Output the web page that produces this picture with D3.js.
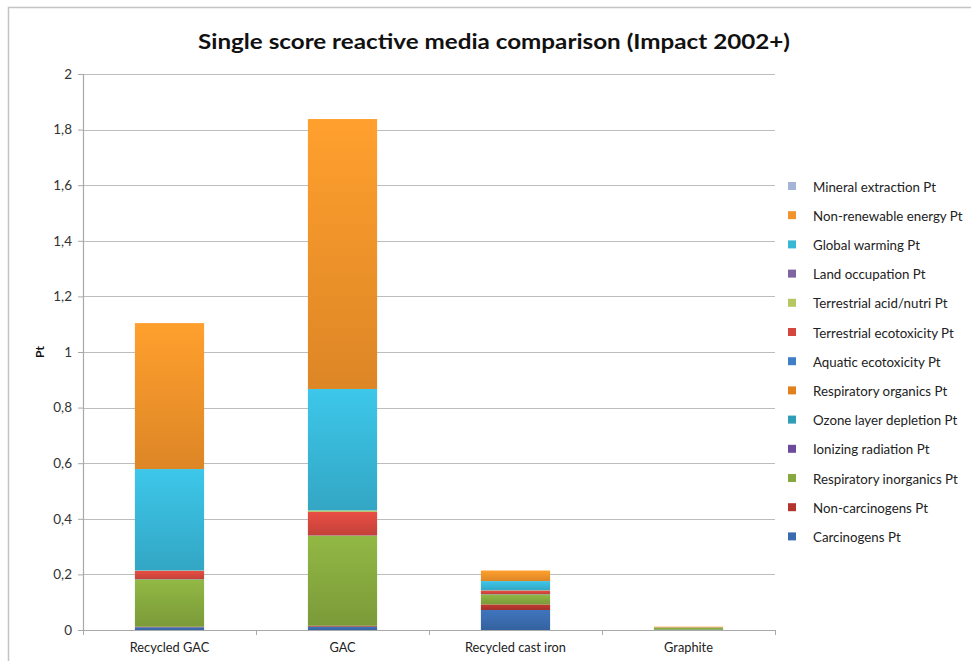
<!DOCTYPE html>
<html><head><meta charset="utf-8">
<script src="https://cdn.jsdelivr.net/npm/d3@7"></script>
<style>body{margin:0;background:#fff}svg{display:block}</style>
</head><body><svg id="c" width="971" height="661"></svg>
<script>
const categories = ["Recycled GAC", "GAC", "Recycled cast iron", "Graphite"];
const seriesNames = ["Carcinogens Pt","Non-carcinogens Pt","Respiratory inorganics Pt","Ionizing radiation Pt","Ozone layer depletion Pt","Respiratory organics Pt","Aquatic ecotoxicity Pt","Terrestrial ecotoxicity Pt","Terrestrial acid/nutri Pt","Land occupation Pt","Global warming Pt","Non-renewable energy Pt","Mineral extraction Pt"];
const seriesColors = ["#3A6BAE","#B2352E","#86A83E","#6E4A9C","#2E9DB5","#E2801E","#3F7FC6","#D5473E","#B5C760","#8064A2","#38B6D6","#F2922A","#A4B5D6"];
const carcinogens = [0.010, 0.012, 0.072, 0.001];
const nonCarcinogens = [0.002, 0.003, 0.020, 0.000];
const respInorganics = [0.170, 0.324, 0.036, 0.007];
const ionizing = [0.000, 0.000, 0.000, 0.000];
const ozone = [0.000, 0.000, 0.000, 0.000];
const respOrganics = [0.000, 0.000, 0.000, 0.000];
const aquaticEcotox = [0.001, 0.001, 0.001, 0.000];
const terrEcotox = [0.030, 0.085, 0.013, 0.000];
const terrAcid = [0.001, 0.005, 0.001, 0.000];
const landOcc = [0.000, 0.000, 0.000, 0.000];
const globalWarming = [0.365, 0.437, 0.033, 0.001];
const nonRenewable = [0.525, 0.971, 0.038, 0.003];
const mineral = [0.000, 0.000, 0.000, 0.000];
const seriesValues = [carcinogens, nonCarcinogens, respInorganics, ionizing, ozone, respOrganics, aquaticEcotox, terrEcotox, terrAcid, landOcc, globalWarming, nonRenewable, mineral];
const yTicks = [0, 0.2, 0.4, 0.6, 0.8, 1, 1.2, 1.4, 1.6, 1.8, 2];

const svg = d3.select("#c");
const font = "Lato, 'Open Sans', sans-serif";
svg.append("rect").attr("x", 8.5).attr("y", 7.5).attr("width", 1000).attr("height", 700)
  .attr("fill", "#fff").attr("stroke", "#c4c4c4").attr("stroke-width", 1.5);

const m = {left: 83, right: 775, top: 74, bottom: 630};
const x = d3.scaleBand().domain(categories).range([m.left, m.right]).paddingInner(0.6).paddingOuter(0.3);
const y = d3.scaleLinear().domain([0, 2]).range([m.bottom, m.top]);

// gradients
const defs = svg.append("defs");
seriesColors.forEach((c, i) => {
  const g = defs.append("linearGradient").attr("id", "g" + i).attr("x1", 0).attr("y1", 0).attr("x2", 0).attr("y2", 1);
  g.append("stop").attr("offset", "0%").attr("stop-color", d3.color(c).brighter(0.25));
  g.append("stop").attr("offset", "100%").attr("stop-color", d3.color(c).darker(0.25));
});

// grid
svg.append("g").selectAll("line").data(yTicks.slice(1)).join("line")
  .attr("x1", m.left).attr("x2", m.right).attr("y1", d => Math.round(y(d)) + 0.5).attr("y2", d => Math.round(y(d)) + 0.5)
  .attr("stroke", "#bdbdbd").attr("stroke-width", 1.2);

// y axis
const ya = svg.append("g").attr("transform", `translate(${m.left},0)`)
  .call(d3.axisLeft(y).tickValues(yTicks).tickSize(5).tickFormat(d => d3.format("~g")(d).replace(".", ",")));
ya.select(".domain").attr("stroke", "#a9a9a9").attr("stroke-width", 1.2).attr("d", `M0.5,${m.top}V${m.bottom}`);
ya.selectAll(".tick line").attr("stroke", "#a9a9a9");
ya.selectAll(".tick text").attr("font-family", font).attr("font-size", 13.5).attr("fill", "#333").attr("x", -11);

// x axis
const xa = svg.append("g").attr("transform", `translate(0,${m.bottom})`)
  .call(d3.axisBottom(x).tickSize(0).tickPadding(13));
xa.select(".domain").attr("stroke", "#a9a9a9").attr("stroke-width", 1.2);
xa.selectAll(".tick text").attr("font-family", font).attr("font-size", 12.8).attr("fill", "#222");
const bounds = d3.range(5).map(i => m.left + i * (m.right - m.left) / 4);
xa.append("g").selectAll("line").data(bounds).join("line")
  .attr("x1", d => d + 0.5).attr("x2", d => d + 0.5).attr("y1", 0).attr("y2", 5).attr("stroke", "#a9a9a9");

// bars
const stack = categories.map((c, ci) => {
  let acc = 0;
  return seriesValues.map((vals, si) => { const y0 = acc; acc += vals[ci]; return {c, si, y0, y1: acc}; });
});
svg.append("g").selectAll("g").data(stack).join("g").selectAll("rect").data(d => d.filter(s => s.y1 > s.y0)).join("rect")
  .attr("x", d => x(d.c)).attr("width", x.bandwidth())
  .attr("y", d => y(d.y1)).attr("height", d => y(d.y0) - y(d.y1))
  .attr("fill", d => `url(#g${d.si})`);

// title
svg.append("text").attr("x", 494).attr("y", 49).attr("text-anchor", "middle")
  .attr("font-family", font).attr("font-weight", "bold").attr("font-size", 21).attr("fill", "#111")
  .attr("textLength", 592).attr("lengthAdjust", "spacingAndGlyphs")
  .text("Single score reactive media comparison (Impact 2002+)");

// y label
svg.append("text").attr("transform", "translate(44,352) rotate(-90)").attr("text-anchor", "middle")
  .attr("font-family", font).attr("font-weight", "bold").attr("font-size", 12).attr("fill", "#111").text("Pt");

// legend
const legendOrder = d3.range(seriesNames.length).reverse();
const lg = svg.append("g").selectAll("g").data(legendOrder).join("g")
  .attr("transform", (d, i) => `translate(788,${187 + i * 29.2})`);
lg.append("rect").attr("x", 0).attr("y", -5).attr("width", 8).attr("height", 8).attr("fill", d => seriesColors[d]);
lg.append("text").attr("x", 25).attr("y", 4.5).attr("font-family", font).attr("font-size", 13.3).attr("fill", "#222")
  .text(d => seriesNames[d]);
</script></body></html>
